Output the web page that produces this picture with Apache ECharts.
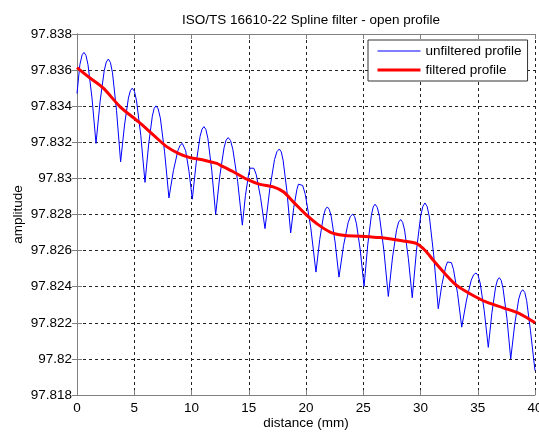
<!DOCTYPE html>
<html>
<head>
<meta charset="utf-8">
<script src="https://cdn.jsdelivr.net/npm/echarts@6/dist/echarts.min.js"></script>
<style>
html,body{margin:0;padding:0;background:#fff;}
#chart{width:539px;height:432px;}
</style>
</head>
<body>
<div id="chart"></div>
<script>
// ---- data ----
const titleText = 'ISO/TS 16610-22 Spline filter - open profile';
const xTicks = [0, 5, 10, 15, 20, 25, 30, 35, 40];
const yTicks = [97.818, 97.82, 97.822, 97.824, 97.826, 97.828, 97.83, 97.832, 97.834, 97.836, 97.838];

const distUnfiltered = [
  0, 0.25, 0.45, 0.61,
  0.785, 0.96, 1.31, 1.66,
  2.02, 2.38, 2.56, 2.74,
  2.92, 3.10, 3.45, 3.81,
  4.15, 4.49, 4.66, 4.83,
  5.02, 5.20, 5.57, 5.94,
  6.26, 6.58, 6.74, 6.90,
  7.09, 7.28, 7.65, 8.03,
  8.42, 8.81, 9.01, 9.20,
  9.35, 9.49, 9.78, 10.07,
  10.41, 10.75, 10.92, 11.09,
  11.26, 11.43, 11.77, 12.11,
  12.47, 12.84, 13.02, 13.20,
  13.41, 13.61, 14.03, 14.44,
  14.71, 14.99, 15.12, 15.26,
  15.45, 15.65, 16.03, 16.42,
  16.84, 17.25, 17.46, 17.67,
  17.84, 18.00, 18.33, 18.66,
  18.93, 19.21, 19.34, 19.48,
  19.71, 19.94, 20.41, 20.87,
  21.20, 21.53, 21.70, 21.86,
  22.03, 22.20, 22.54, 22.88,
  23.28, 23.68, 23.88, 24.08,
  24.25, 24.41, 24.74, 25.07,
  25.39, 25.71, 25.87, 26.03,
  26.22, 26.42, 26.80, 27.19,
  27.55, 27.91, 28.09, 28.27,
  28.44, 28.61, 28.94, 29.28,
  29.65, 30.02, 30.21, 30.39,
  30.58, 30.78, 31.16, 31.55,
  31.87, 32.20, 32.36, 32.52,
  32.70, 32.88, 33.24, 33.60,
  34.02, 34.43, 34.64, 34.85,
  35.03, 35.21, 35.56, 35.92,
  36.24, 36.56, 36.72, 36.88,
  37.05, 37.21, 37.55, 37.88,
  38.23, 38.58, 38.76, 38.93,
  39.11, 39.27, 39.60, 40.00
];
const unfiltered = [
  97.83470, 97.83630, 97.83685, 97.83698,
  97.83681, 97.83630, 97.83446, 97.83194,
  97.83428, 97.83598, 97.83645, 97.83661,
  97.83642, 97.83585, 97.83377, 97.83092,
  97.83296, 97.83445, 97.83486, 97.83500,
  97.83482, 97.83430, 97.83239, 97.82978,
  97.83190, 97.83345, 97.83388, 97.83402,
  97.83385, 97.83334, 97.83147, 97.82892,
  97.83043, 97.83154, 97.83184, 97.83194,
  97.83183, 97.83153, 97.83040, 97.82885,
  97.83086, 97.83233, 97.83273, 97.83287,
  97.83270, 97.83222, 97.83044, 97.82800,
  97.83013, 97.83169, 97.83212, 97.83226,
  97.83210, 97.83161, 97.82984, 97.82741,
  97.82905, 97.83024, 97.83057, 97.83068,
  97.83056, 97.83022, 97.82895, 97.82722,
  97.82943, 97.83104, 97.83148, 97.83163,
  97.83147, 97.83101, 97.82931, 97.82698,
  97.82838, 97.82940, 97.82968, 97.82978,
  97.82961, 97.82911, 97.82730, 97.82481,
  97.82662, 97.82794, 97.82830, 97.82842,
  97.82829, 97.82790, 97.82648, 97.82453,
  97.82628, 97.82755, 97.82790, 97.82802,
  97.82788, 97.82748, 97.82602, 97.82402,
  97.82630, 97.82796, 97.82842, 97.82857,
  97.82840, 97.82789, 97.82602, 97.82346,
  97.82559, 97.82715, 97.82758, 97.82772,
  97.82757, 97.82714, 97.82556, 97.82339,
  97.82602, 97.82794, 97.82846, 97.82864,
  97.82844, 97.82785, 97.82571, 97.82278,
  97.82412, 97.82510, 97.82537, 97.82546,
  97.82533, 97.82496, 97.82361, 97.82176,
  97.82326, 97.82436, 97.82466, 97.82476,
  97.82462, 97.82421, 97.82270, 97.82064,
  97.82257, 97.82398, 97.82437, 97.82450,
  97.82435, 97.82390, 97.82225, 97.82000,
  97.82192, 97.82332, 97.82370, 97.82383,
  97.82368, 97.82323, 97.82159, 97.81935
];

const distFiltered = [0, 1.14, 2.3, 3.75, 5.36, 6.66, 7.83, 8.85, 9.87, 11.03, 12.2, 12.49, 13.65, 14.82, 15.98, 17.14, 18.02, 18.89, 20.06, 20.93, 22.1, 23.26, 24.72, 26.46, 28.5, 29.67, 30.39, 31.12, 32.14, 33.16, 34.32, 35.78, 37.23, 38.69, 40];
const filtered = [97.83614, 97.83556, 97.83500, 97.83398, 97.83314, 97.83241, 97.83176, 97.83139, 97.83115, 97.83102, 97.83083, 97.83074, 97.83037, 97.82996, 97.82967, 97.82953, 97.82926, 97.82870, 97.82796, 97.82750, 97.82703, 97.82685, 97.82680, 97.82672, 97.82653, 97.82639, 97.82602, 97.82546, 97.82472, 97.82407, 97.82361, 97.82314, 97.82283, 97.82250, 97.82200];

const seriesNames = ['unfiltered profile', 'filtered profile'];

// ---- chart ----
const FONT = 'Liberation Sans, Arial, sans-serif';
const FS = 13.5;
const axisGray = '#808080';
const gridStyle = { show: true, lineStyle: { color: '#222', width: 1, type: [3, 3] } };

const pairs = (xs, ys) => xs.map((x, i) => [x, ys[i]]);

const chart = echarts.init(document.getElementById('chart'), null, { renderer: 'canvas' });
chart.setOption({
  animation: false,
  backgroundColor: '#fff',
  textStyle: { fontFamily: FONT },
  title: {
    text: titleText,
    left: 306, top: 8, textAlign: 'center',
    textStyle: { fontFamily: FONT, fontSize: FS, fontWeight: 'normal', color: '#000' }
  },
  grid: { left: 77, right: 4, top: 34, bottom: 37, containLabel: false, outerBoundsMode: 'none' },
  legend: {
    orient: 'vertical',
    left: 368, top: 40,
    padding: [4, 6, 4, 8],
    itemGap: 5,
    itemWidth: 43, itemHeight: 14,
    backgroundColor: '#fff',
    borderColor: '#333', borderWidth: 1,
    itemStyle: { opacity: 0 },
    textStyle: { fontFamily: FONT, fontSize: FS, color: '#000' },
    data: [
      { name: seriesNames[0], lineStyle: { width: 1 } },
      { name: seriesNames[1], lineStyle: { width: 3 } }
    ]
  },
  xAxis: [{
    type: 'value', min: xTicks[0], max: xTicks[xTicks.length - 1], interval: 5,
    position: 'bottom',
    name: 'distance (mm)', nameLocation: 'middle', nameGap: 21, nameMoveOverlap: false,
    nameTextStyle: { fontFamily: FONT, fontSize: FS, color: '#000' },
    axisLine: { show: true, lineStyle: { color: axisGray, width: 1 } },
    axisTick: { show: true, inside: true, length: 5, lineStyle: { color: axisGray } },
    axisLabel: { show: true, margin: 6, fontFamily: FONT, fontSize: FS, color: '#000' },
    splitLine: gridStyle
  }, {
    type: 'value', min: xTicks[0], max: xTicks[xTicks.length - 1], interval: 5,
    position: 'top',
    axisLine: { show: true, lineStyle: { color: axisGray, width: 1 } },
    axisTick: { show: true, inside: true, length: 5, lineStyle: { color: axisGray } },
    axisLabel: { show: false },
    splitLine: { show: false }
  }],
  yAxis: [{
    type: 'value', min: yTicks[0], max: yTicks[yTicks.length - 1], interval: 0.002,
    position: 'left',
    name: 'amplitude', nameLocation: 'middle', nameGap: 52, nameRotate: 90, nameMoveOverlap: false,
    nameTextStyle: { fontFamily: FONT, fontSize: FS, color: '#000' },
    axisLine: { show: true, lineStyle: { color: axisGray, width: 1 } },
    axisTick: { show: true, inside: true, length: 5, lineStyle: { color: axisGray } },
    axisLabel: {
      show: true, margin: 5, fontFamily: FONT, fontSize: FS, color: '#000',
      formatter: v => String(+(+v).toFixed(3))
    },
    splitLine: gridStyle
  }, {
    type: 'value', min: yTicks[0], max: yTicks[yTicks.length - 1], interval: 0.002,
    position: 'right',
    axisLine: { show: true, lineStyle: { color: axisGray, width: 1 } },
    axisTick: { show: true, inside: true, length: 5, lineStyle: { color: axisGray } },
    axisLabel: { show: false },
    splitLine: { show: false }
  }],
  series: [{
    name: seriesNames[0],
    type: 'line',
    xAxisIndex: 0, yAxisIndex: 0,
    data: pairs(distUnfiltered, unfiltered),
    symbol: 'none',
    smooth: false,
    lineStyle: { color: '#0000ff', width: 1 },
    itemStyle: { color: '#0000ff' },
    z: 3
  }, {
    name: seriesNames[1],
    type: 'line',
    xAxisIndex: 0, yAxisIndex: 0,
    data: pairs(distFiltered, filtered),
    symbol: 'none',
    smooth: 0.3,
    lineStyle: { color: '#ff0000', width: 3 },
    itemStyle: { color: '#ff0000' },
    z: 4
  }]
});
</script>
</body>
</html>
